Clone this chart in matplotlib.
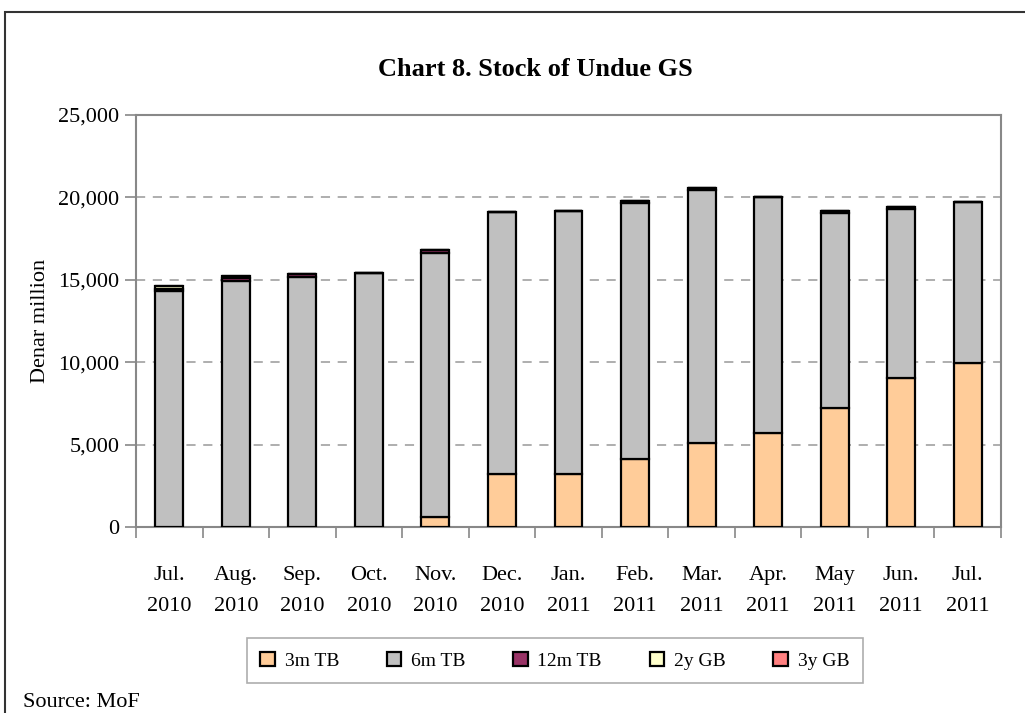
import numpy as np
import matplotlib.pyplot as plt
from matplotlib.patches import Rectangle
from matplotlib.ticker import FuncFormatter

months = ['Jul.\n2010', 'Aug.\n2010', 'Sep.\n2010', 'Oct.\n2010', 'Nov.\n2010',
          'Dec.\n2010', 'Jan.\n2011', 'Feb.\n2011', 'Mar.\n2011', 'Apr.\n2011',
          'May\n2011', 'Jun.\n2011', 'Jul.\n2011']

# denar million
tb_3m = [0, 0, 0, 0, 600, 3200, 3200, 4150, 5100, 5700, 7200, 9050, 9950]
tb_6m = [14330, 14930, 15150, 15400, 16050, 15900, 16000, 15500, 15340, 14350, 11840, 10230, 9750]
tb_12m = [120, 150, 220, 0, 150, 0, 0, 120, 150, 0, 130, 130, 0]
gb_2y = [200, 150, 0, 0, 0, 0, 0, 0, 0, 0, 0, 0, 0]
gb_3y = [0, 0, 0, 0, 0, 0, 0, 0, 0, 0, 0, 0, 0]

series = [('3m TB', tb_3m, '#FFCC99'),
          ('6m TB', tb_6m, '#C0C0C0'),
          ('12m TB', tb_12m, '#993366'),
          ('2y GB', gb_2y, '#FFFFCC'),
          ('3y GB', gb_3y, '#FF8080')]

plt.rcParams['font.family'] = 'Liberation Serif'

fig = plt.figure(figsize=(10.25, 7.13), dpi=100)
ax = fig.add_axes([0.1327, 0.2609, 0.8439, 0.5778])

x = np.arange(len(months))
bottom = np.zeros(len(months))
for name, vals, col in series:
    vals = np.array(vals, dtype=float)
    ax.bar(x, vals, width=0.42, bottom=bottom, color=col, edgecolor='black',
           linewidth=1.6, label=name, zorder=3)
    bottom += vals

ax.set_xlim(-0.5, len(months) - 0.5)
ax.set_ylim(0, 25000)
ax.set_yticks(np.arange(0, 25001, 5000))
ax.yaxis.set_major_formatter(FuncFormatter(lambda v, p: f'{int(v):,}'))
ax.yaxis.grid(True, color='#999999', linestyle=(0, (6, 5)), linewidth=1.1, zorder=0)

ax.set_xticks(x)
ax.set_xticklabels(months, linespacing=1.85)
ax.set_xticks(np.arange(-0.5, len(months), 1), minor=True)
ax.tick_params(axis='x', which='major', length=0, pad=28, labelsize=16)
ax.tick_params(axis='x', which='minor', length=8, color='#888888', width=1.2)
ax.tick_params(axis='y', length=8, color='#888888', width=1.2, labelsize=16, pad=4)

for s in ax.spines.values():
    s.set_color('#888888')
    s.set_linewidth(1.5)

ax.set_ylabel('Denar million', fontsize=16, labelpad=6)

fig.text(0.522, 0.902, 'Chart 8. Stock of Undue GS', ha='center', va='center',
         fontsize=19, fontweight='bold')

leg = ax.legend(loc='center', bbox_to_anchor=(0.484, -0.325), ncol=5, fontsize=14,
                frameon=True, fancybox=False, edgecolor='#999999',
                handlelength=0.75, handleheight=0.75, columnspacing=2.45,
                handletextpad=0.5, borderpad=0.7, borderaxespad=0)
leg.get_frame().set_linewidth(1.2)

fig.text(0.022, 0.002, 'Source: MoF', ha='left', va='bottom', fontsize=16)

# outer chart frame
fig.patches.append(Rectangle((0.005, -0.1), 1.2, 1.1 - 0.017, transform=fig.transFigure,
                             fill=False, edgecolor='#333333', linewidth=1.5, clip_on=False))

fig.savefig('out.png', dpi=100)
